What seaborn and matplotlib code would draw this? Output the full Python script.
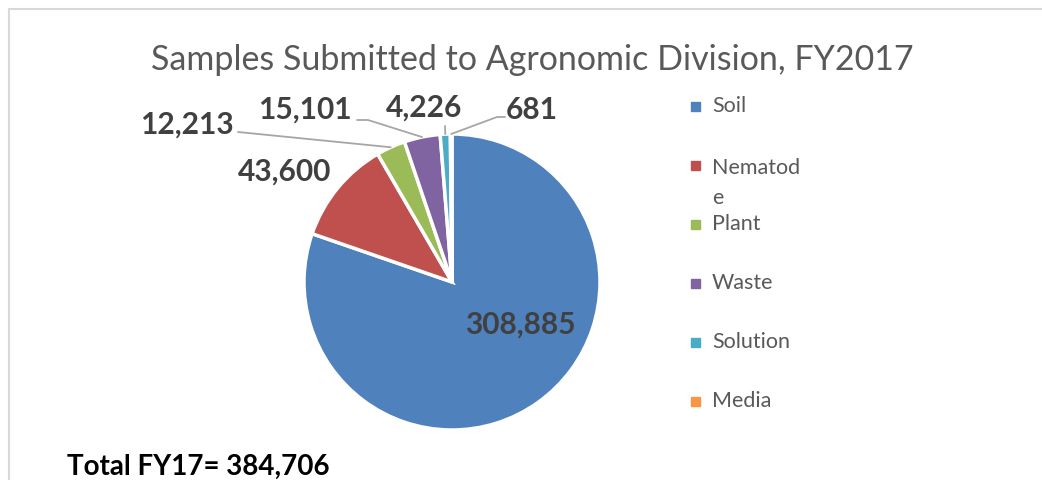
import matplotlib
matplotlib.use("Agg")
import matplotlib.pyplot as plt
import seaborn as sns
import numpy as np

# data
categories = ["Soil", "Nematode", "Plant", "Waste", "Solution", "Media"]
legend_labels = ["Soil", "Nematod\ne", "Plant", "Waste", "Solution", "Media"]
samples = [308885, 43600, 12213, 15101, 4226, 681]
total_label = "Total FY17= 384,706"
title = "Samples Submitted to Agronomic Division, FY2017"

sns.set_theme(style="white")
plt.rcParams["font.family"] = ["Lato", "DejaVu Sans"]

colors = sns.color_palette(["#4F81BD", "#C0504D", "#9BBB59", "#8064A2", "#4BACC6", "#F79646"])

W, H = 1042, 481
fig = plt.figure(figsize=(W / 100, H / 100), dpi=100)

# pie axes: centre (452, 283) px, radius 148 px
cx, cy, r = 452, 283, 148
ax = fig.add_axes([(cx - r) / W, (H - cy - r) / H, 2 * r / W, 2 * r / H])
wedges, _ = ax.pie(samples, colors=colors, startangle=90, counterclock=False,
                   radius=1, wedgeprops=dict(edgecolor="white", linewidth=2.5))
ax.set_xlim(-1, 1)
ax.set_ylim(-1, 1)
ax.set_aspect("equal")
ax.axis("off")

def px(x, y):
    # pixel -> pie data coords
    return ((x - cx) / r, (cy - y) / r)

lab_color = "#404040"
lab_kw = dict(fontsize=21.5, fontweight="bold", color=lab_color, ha="center", va="center")

# soil label inside
ax.text(*px(520, 325), f"{samples[0]:,}", **lab_kw)
# nematode label, no leader
ax.text(*px(285, 172), f"{samples[1]:,}", **lab_kw, clip_on=False)

# outside labels with leader lines: (label centre, line start, knee)
leaders = {
    2: ((187, 125), (238, 133), (238, 133)),
    3: ((305, 110), (357, 121), (368, 121)),
    4: ((424, 108), (445, 127), (445, 127)),
    5: ((532, 110), (505, 118), (497, 118)),
}
for i, (lc, start, knee) in leaders.items():
    w = wedges[i]
    mid = np.deg2rad((w.theta1 + w.theta2) / 2)
    ex, ey = 1.0 * np.cos(mid), 1.0 * np.sin(mid)
    ax.text(*px(*lc), f"{samples[i]:,}", **lab_kw, clip_on=False)
    xs = [px(*start)[0], px(*knee)[0], ex]
    ys = [px(*start)[1], px(*knee)[1], ey]
    ax.plot(xs, ys, color="#A6A6A6", lw=1.3, clip_on=False)

# title
fig.text(532 / W, 1 - 60 / H, title, fontsize=24.5, color="#595959", ha="center", va="center")

# legend
for k, (lab, col) in enumerate(zip(legend_labels, colors)):
    y = 107 + k * 59
    fig.patches.append(plt.Rectangle(((695 - 4.5) / W, 1 - (y + 4.5) / H), 9 / W, 9 / H,
                                     transform=fig.transFigure, color=col))
    if "\n" in lab:
        fig.text(712 / W, 1 - (y - 8) / H, lab, fontsize=15.5, color="#595959", ha="left",
                 va="top", linespacing=1.6)
    else:
        fig.text(712 / W, 1 - (y - 1) / H, lab, fontsize=15.5, color="#595959", ha="left",
                 va="center")

# total
fig.text(67 / W, 1 - 467 / H, total_label, fontsize=20, fontweight="bold", color="black",
         ha="left", va="center")

# frame
fig.add_artist(plt.Line2D([8.5 / W, 1], [1 - 9.5 / H, 1 - 9.5 / H], color="#D9D9D9", lw=1.5,
                          transform=fig.transFigure))
fig.add_artist(plt.Line2D([8.5 / W, 8.5 / W], [0, 1 - 9.5 / H], color="#D9D9D9", lw=1.5,
                          transform=fig.transFigure))

fig.savefig("out.png", dpi=100)
